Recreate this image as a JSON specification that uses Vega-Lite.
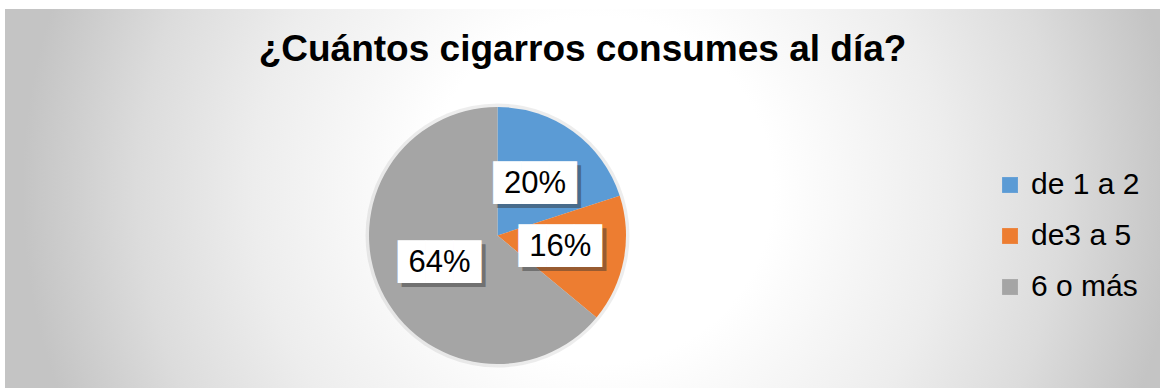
{
  "$schema": "https://vega.github.io/schema/vega-lite/v6.json",
  "width": 1162,
  "height": 388,
  "autosize": {"type": "fit", "contains": "padding"},
  "padding": {"left": 5, "top": 9, "right": 2, "bottom": 0},
  "background": "#FFFFFF",
  "title": {
    "text": "¿Cuántos cigarros consumes al día?",
    "fontSize": 37,
    "font": "Liberation Sans",
    "fontWeight": "bold",
    "color": "#000000",
    "anchor": "middle",
    "frame": "group",
    "baseline": "alphabetic",
    "offset": -55,
    "dy": 34
  },
  "data": {
    "values": [
      {"cat": "de 1 a 2", "pct": 20, "label": "20%", "k": 1},
      {"cat": "de3 a 5", "pct": 16, "label": "16%", "k": 2},
      {"cat": "6 o más", "pct": 64, "label": "64%", "k": 3}
    ]
  },
  "layer": [
    {
      "data": {"values": [{"bg": 1}]},
      "mark": {
        "type": "rect",
        "color": {
          "gradient": "radial",
          "x1": 0.515, "y1": 0.493, "r1": 0,
          "x2": 0.515, "y2": 0.493, "r2": 0.5,
          "stops": [
            {"offset": 0, "color": "#FFFFFF"},
            {"offset": 0.3, "color": "#FFFFFF"},
            {"offset": 0.6, "color": "#EDEDED"},
            {"offset": 0.8, "color": "#DCDCDC"},
            {"offset": 1, "color": "#C4C4C4"}
          ]
        }
      },
      "encoding": {}
    },
    {
      "data": {"values": [{"halo": 1}]},
      "mark": {"type": "arc", "outerRadius": 132, "xOffset": -85, "yOffset": 37, "color": "#000000", "opacity": 0.07},
      "encoding": {}
    },
    {
      "mark": {"type": "arc", "outerRadius": 128.5, "xOffset": -85, "yOffset": 37},
      "encoding": {
        "theta": {"field": "pct", "type": "quantitative", "stack": true},
        "order": {"field": "k", "type": "quantitative"},
        "color": {
          "field": "cat",
          "type": "nominal",
          "sort": ["de 1 a 2", "de3 a 5", "6 o más"],
          "scale": {"domain": ["de 1 a 2", "de3 a 5", "6 o más"], "range": ["#5B9BD5", "#ED7D31", "#A5A5A5"]},
          "legend": {
            "title": null,
            "orient": "none",
            "legendX": 990,
            "legendY": 161,
            "padding": 0,
            "symbolType": "square",
            "symbolSize": 250,
            "symbolStrokeWidth": 0,
            "labelFont": "Liberation Sans",
            "labelFontSize": 30,
            "labelColor": "#000000",
            "labelOffset": 6,
            "rowPadding": 21,
            "labelLimit": 300
          }
        }
      }
    },
    {
      "mark": {"type": "text", "radius": 64, "xOffset": -81, "yOffset": 41, "font": "DejaVu Sans", "fontSize": 36, "color": "#333333", "opacity": 0.45},
      "encoding": {
        "theta": {"field": "pct", "type": "quantitative", "stack": true},
        "order": {"field": "k", "type": "quantitative"},
        "detail": {"field": "cat", "type": "nominal"},
        "text": {"value": "███"}
      }
    },
    {
      "mark": {"type": "text", "radius": 64, "xOffset": -85, "yOffset": 37, "font": "DejaVu Sans", "fontSize": 36, "color": "#FFFFFF"},
      "encoding": {
        "theta": {"field": "pct", "type": "quantitative", "stack": true},
        "order": {"field": "k", "type": "quantitative"},
        "detail": {"field": "cat", "type": "nominal"},
        "text": {"value": "███"}
      }
    },
    {
      "mark": {"type": "text", "radius": 64, "xOffset": -85, "yOffset": 37, "font": "Liberation Sans", "fontSize": 31, "color": "#000000"},
      "encoding": {
        "theta": {"field": "pct", "type": "quantitative", "stack": true},
        "order": {"field": "k", "type": "quantitative"},
        "detail": {"field": "cat", "type": "nominal"},
        "text": {"field": "label"}
      }
    }
  ],
  "config": {
    "view": {"stroke": null}
  }
}
